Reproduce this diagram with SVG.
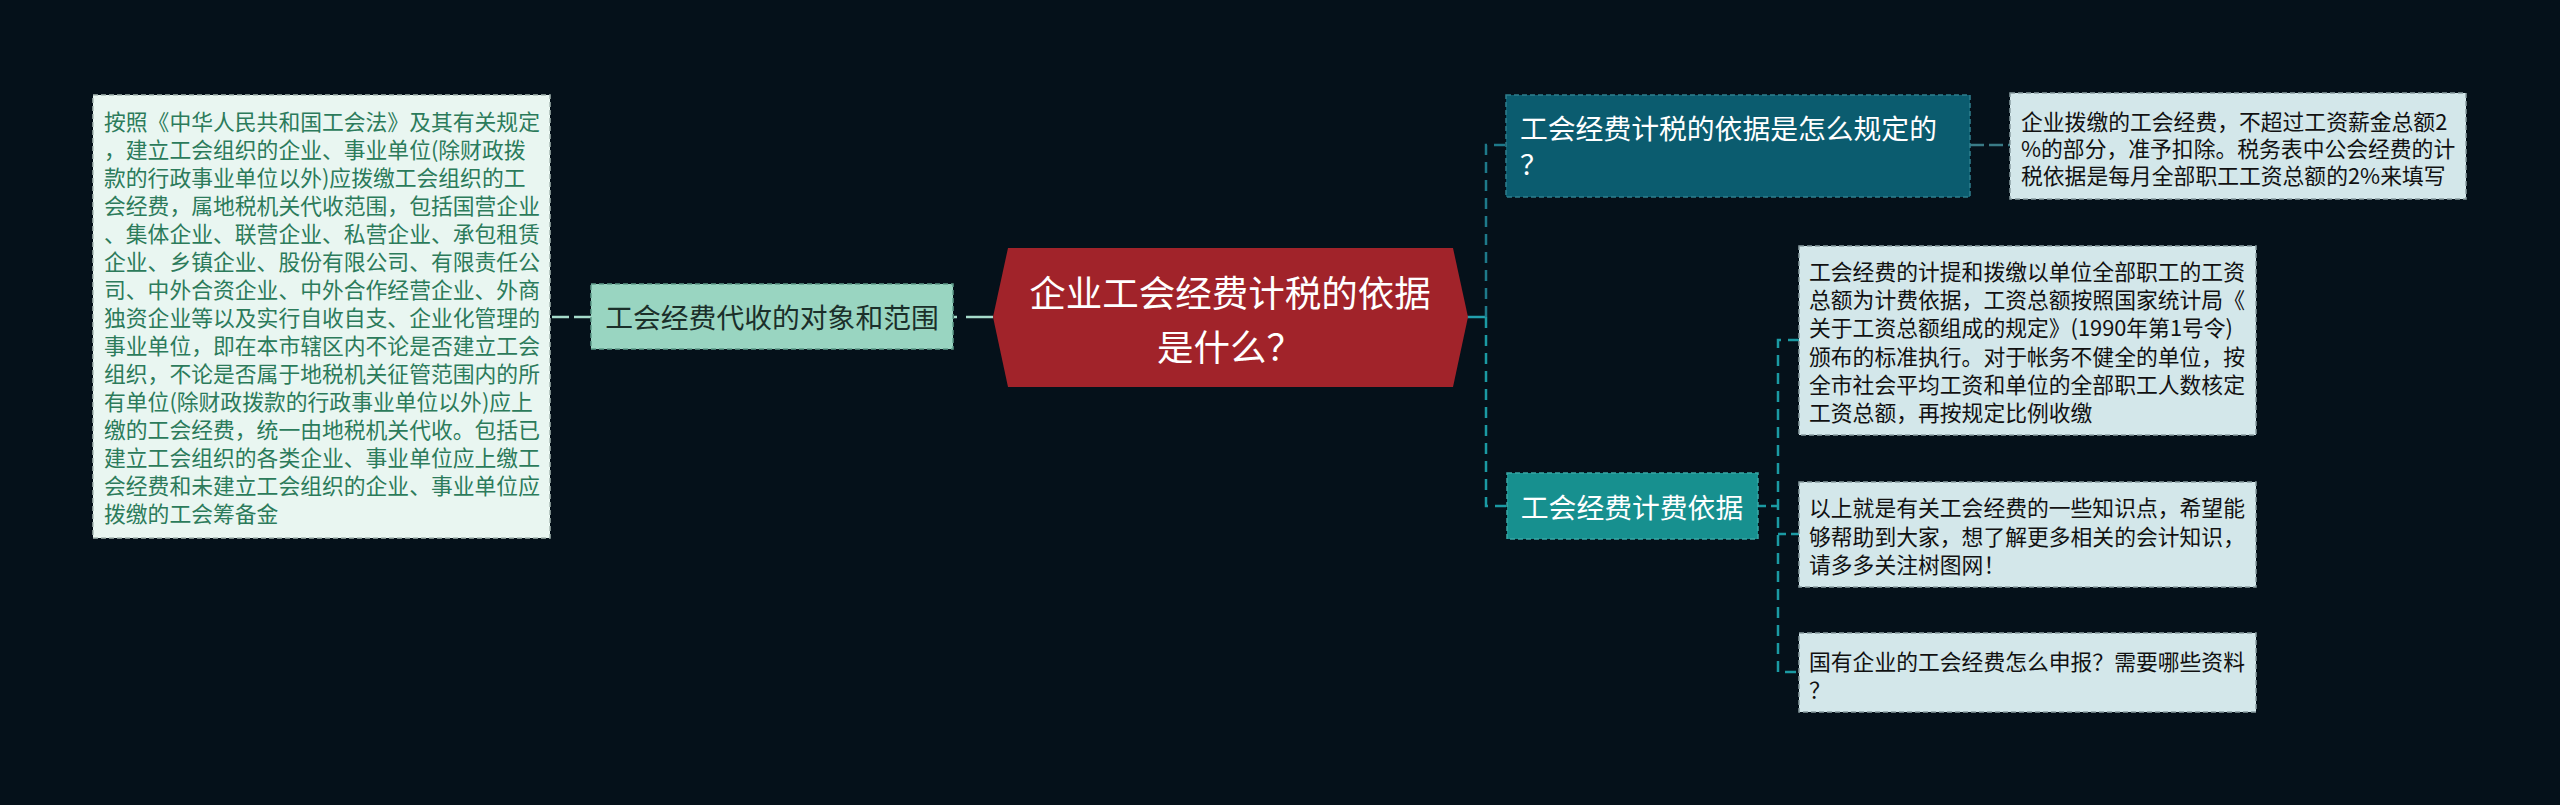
<svg xmlns="http://www.w3.org/2000/svg" width="2560" height="805" viewBox="0 0 2560 805">
<style>
text{font-family:"Noto Sans CJK SC","Noto Sans",sans-serif;}
.t21{font-size:21.8px;}
.t27{font-size:27.8px;}
.t37{font-size:36.5px;}
.box{stroke-width:1.5;stroke-dasharray:5 3;}
.conn{fill:none;stroke-width:2.5;}
</style>
<rect x="0" y="0" width="2560" height="805" fill="#05111a"/>
<g id="connectors">
  <path class="conn" d="M993 317 L954 317" stroke="#a6dccb" stroke-dasharray="27 9"/>
  <path class="conn" d="M591 317 L550 317" stroke="#a6dccb" stroke-dasharray="17 5"/>
  <path class="conn" d="M1465 317 L1486 317" stroke="#22a0ae" stroke-width="3"/>
  <path class="conn" d="M1486 317 L1486 145 L1505 145" stroke="#1e7a8a" stroke-dasharray="11 7"/>
  <path class="conn" d="M1486 317 L1486 506 L1507 506" stroke="#1b9aa3" stroke-dasharray="11 7"/>
  <path class="conn" d="M1970 145 L2010 145" stroke="#3a7b86" stroke-dasharray="14 5"/>
  <path class="conn" d="M1758 506 L1778 506" stroke="#1b9aa3" stroke-dasharray="8 5"/>
  <path class="conn" d="M1799 340 L1778 340 L1778 672 L1799 672" stroke="#1b9aa3" stroke-dasharray="11 7"/>
  <path class="conn" d="M1778 534 L1799 534" stroke="#1b9aa3" stroke-dasharray="8 5"/>
</g>
<g id="root">
  <polygon points="1008,248 1453,248 1468,317 1453,387 1008,387 993,317" fill="#a1232a"/>
  <text class="t37" fill="#ffffff" text-anchor="middle" x="1230" y="307">企业工会经费计税的依据</text>
  <text class="t37" fill="#ffffff" text-anchor="middle" x="1230" y="361">是什么？</text>
</g>
<g id="left-node">
  <rect class="box" x="591" y="284" width="362" height="65" fill="#99d5c1" stroke="#5f9c8a"/>
  <text class="t27" fill="#1b2f2a" text-anchor="middle" x="772" y="328">工会经费代收的对象和范围</text>
</g>
<g id="left-text">
  <rect class="box" x="93" y="95" width="457" height="443" fill="#e9f6f1" stroke="#a6b8b3"/>
  <text class="t21" fill="#2c7b5b">
    <tspan x="104" y="130">按照《中华人民共和国工会法》及其有关规定</tspan>
    <tspan x="104" y="158">，建立工会组织的企业、事业单位(除财政拨</tspan>
    <tspan x="104" y="186">款的行政事业单位以外)应拨缴工会组织的工</tspan>
    <tspan x="104" y="214">会经费，属地税机关代收范围，包括国营企业</tspan>
    <tspan x="104" y="242">、集体企业、联营企业、私营企业、承包租赁</tspan>
    <tspan x="104" y="270">企业、乡镇企业、股份有限公司、有限责任公</tspan>
    <tspan x="104" y="298">司、中外合资企业、中外合作经营企业、外商</tspan>
    <tspan x="104" y="326">独资企业等以及实行自收自支、企业化管理的</tspan>
    <tspan x="104" y="354">事业单位，即在本市辖区内不论是否建立工会</tspan>
    <tspan x="104" y="382">组织，不论是否属于地税机关征管范围内的所</tspan>
    <tspan x="104" y="410">有单位(除财政拨款的行政事业单位以外)应上</tspan>
    <tspan x="104" y="438">缴的工会经费，统一由地税机关代收。包括已</tspan>
    <tspan x="104" y="466">建立工会组织的各类企业、事业单位应上缴工</tspan>
    <tspan x="104" y="494">会经费和未建立工会组织的企业、事业单位应</tspan>
    <tspan x="104" y="522">拨缴的工会筹备金</tspan>
  </text>
</g>
<g id="node-basis-rule">
  <rect class="box" x="1506" y="95" width="464" height="102" fill="#0b5c6f" stroke="#2f7f8f"/>
  <text class="t27" fill="#ffffff">
    <tspan x="1520" y="139">工会经费计税的依据是怎么规定的</tspan>
    <tspan x="1520" y="175">？</tspan>
  </text>
</g>
<g id="text-basis-rule">
  <rect class="box" x="2010" y="93" width="456" height="106" fill="#d3e7ea" stroke="#8a9ea2"/>
  <text class="t21" fill="#111111">
    <tspan x="2021" y="130">企业拨缴的工会经费，不超过工资薪金总额2</tspan>
    <tspan x="2021" y="157">%的部分，准予扣除。税务表中公会经费的计</tspan>
    <tspan x="2021" y="184">税依据是每月全部职工工资总额的2%来填写</tspan>
  </text>
</g>
<g id="node-fee-basis">
  <rect class="box" x="1507" y="473" width="251" height="66" fill="#17908f" stroke="#3aa7a5"/>
  <text class="t27" fill="#ffffff" text-anchor="middle" x="1632" y="518">工会经费计费依据</text>
</g>
<g id="text-fee-basis-1">
  <rect class="box" x="1799" y="246" width="457" height="189" fill="#d3e7ea" stroke="#8a9ea2"/>
  <text class="t21" fill="#111111">
    <tspan x="1809" y="280">工会经费的计提和拨缴以单位全部职工的工资</tspan>
    <tspan x="1809" y="308">总额为计费依据，工资总额按照国家统计局《</tspan>
    <tspan x="1809" y="336">关于工资总额组成的规定》(1990年第1号令)</tspan>
    <tspan x="1809" y="365">颁布的标准执行。对于帐务不健全的单位，按</tspan>
    <tspan x="1809" y="393">全市社会平均工资和单位的全部职工人数核定</tspan>
    <tspan x="1809" y="421">工资总额，再按规定比例收缴</tspan>
  </text>
</g>
<g id="text-fee-basis-2">
  <rect class="box" x="1799" y="482" width="457" height="105" fill="#d3e7ea" stroke="#8a9ea2"/>
  <text class="t21" fill="#111111">
    <tspan x="1809" y="516">以上就是有关工会经费的一些知识点，希望能</tspan>
    <tspan x="1809" y="545">够帮助到大家，想了解更多相关的会计知识，</tspan>
    <tspan x="1809" y="573">请多多关注树图网！</tspan>
  </text>
</g>
<g id="text-fee-basis-3">
  <rect class="box" x="1799" y="633" width="457" height="79" fill="#d3e7ea" stroke="#8a9ea2"/>
  <text class="t21" fill="#111111">
    <tspan x="1809" y="670">国有企业的工会经费怎么申报？需要哪些资料</tspan>
    <tspan x="1809" y="698">？</tspan>
  </text>
</g>
</svg>
